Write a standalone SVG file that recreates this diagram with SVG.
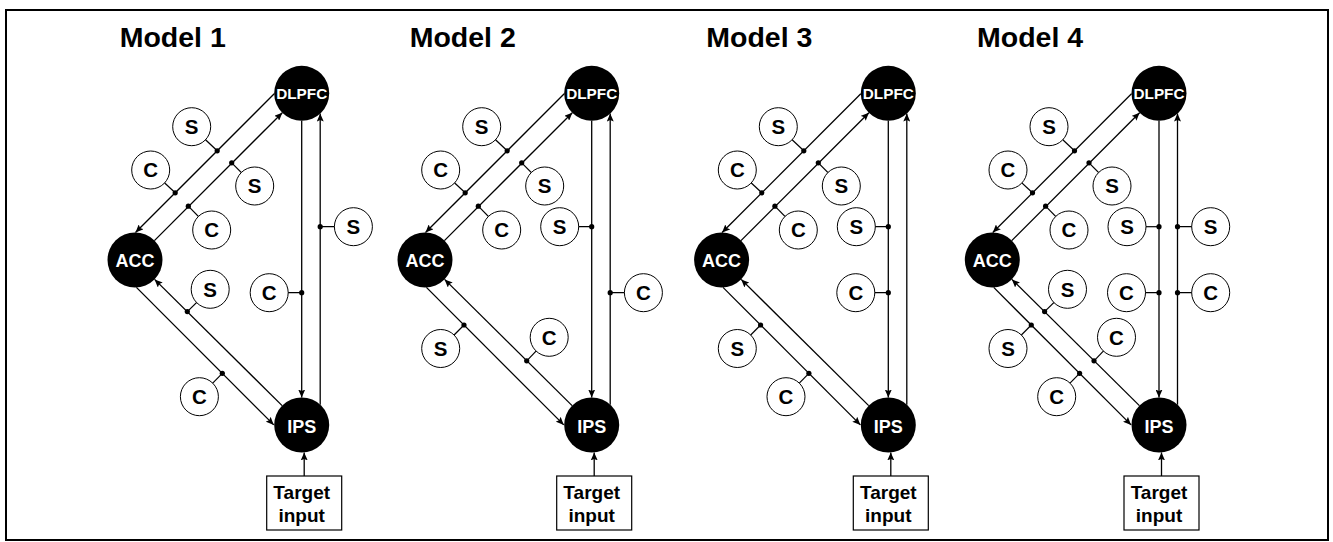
<svg xmlns="http://www.w3.org/2000/svg" width="1333" height="542" viewBox="0 0 1333 542">
<defs>
<marker id="ah" markerUnits="userSpaceOnUse" markerWidth="9" markerHeight="7" refX="8" refY="3.5" orient="auto">
<path d="M0,0 L8,3.5 L0,7 L1.5,3.5 z" fill="#000"/>
</marker>
</defs>
<style>
.title{font-family:"Liberation Sans",Arial,sans-serif;font-weight:bold;font-size:28.5px;fill:#000}
.node{fill:#000}
.nl{font-family:"Liberation Sans",Arial,sans-serif;font-weight:bold;font-size:18px;fill:#fff;text-anchor:middle}
.dl{font-size:15px}
.ln{stroke:#000;stroke-width:1.3;fill:none}
.arr{marker-end:url(#ah)}
.stub{stroke:#000;stroke-width:1.2}
.dot{fill:#000}
.lab{fill:#fff;stroke:#000;stroke-width:1}
.lt{font-family:"Liberation Sans",Arial,sans-serif;font-weight:bold;font-size:20.5px;fill:#000;text-anchor:middle}
.box{fill:#fff;stroke:#000;stroke-width:1.2}
.bt{font-family:"Liberation Sans",Arial,sans-serif;font-weight:bold;font-size:19px;fill:#000;text-anchor:middle}
</style>
<rect x="0" y="0" width="1333" height="542" fill="#fff"/>
<rect x="6" y="10" width="1322" height="530" fill="none" stroke="#000" stroke-width="2"/>

<!-- MODEL 1 -->
<g id="model1" transform="translate(301.7,0)">
<text class="title" x="-182" y="47">Model 1</text>
<g id="m1-connectors">
<line class="ln arr" x1="-27.5" y1="93.8" x2="-166.2" y2="232.5"/>
<line class="ln arr" x1="-147.3" y1="240.6" x2="-19.4" y2="112.7"/>
<line class="ln arr" x1="-165.3" y1="287.4" x2="-27.9" y2="424.9"/>
<line class="ln arr" x1="-19.6" y1="405.6" x2="-147.1" y2="279.4"/>
<line class="ln arr" x1="0" y1="120.8" x2="0" y2="397.5"/>
<line class="ln arr" x1="18.5" y1="404.7" x2="18.5" y2="113.6"/>
<line class="ln arr" x1="2.5" y1="476" x2="2.5" y2="452.4"/>
</g>
<g id="m1-l1-s"><line class="stub" x1="-84.5" y1="150.8" x2="-110" y2="126.7"/><circle class="dot" cx="-84.5" cy="150.8" r="2.6"/><circle class="lab" cx="-110" cy="126.7" r="19"/><text class="lt" x="-110" y="134">S</text></g>
<g id="m1-l1-c"><line class="stub" x1="-126.5" y1="192.8" x2="-151" y2="170"/><circle class="dot" cx="-126.5" cy="192.8" r="2.6"/><circle class="lab" cx="-151" cy="170" r="19"/><text class="lt" x="-151" y="177.3">C</text></g>
<g id="m1-l2-s"><line class="stub" x1="-70" y1="162.8" x2="-47" y2="186"/><circle class="dot" cx="-70" cy="162.8" r="2.6"/><circle class="lab" cx="-47" cy="186" r="19"/><text class="lt" x="-47" y="193.3">S</text></g>
<g id="m1-l2-c"><line class="stub" x1="-113.4" y1="206.2" x2="-90" y2="230"/><circle class="dot" cx="-113.4" cy="206.2" r="2.6"/><circle class="lab" cx="-90" cy="230" r="19"/><text class="lt" x="-90" y="237.3">C</text></g>
<g id="m1-vr-s"><line class="stub" x1="18.5" y1="226.7" x2="51.7" y2="226.7"/><circle class="dot" cx="18.5" cy="226.7" r="2.6"/><circle class="lab" cx="51.7" cy="226.7" r="19"/><text class="lt" x="51.7" y="234">S</text></g>
<g id="m1-vl-c"><line class="stub" x1="0" y1="292.7" x2="-32.5" y2="292.7"/><circle class="dot" cx="0" cy="292.7" r="2.6"/><circle class="lab" cx="-32.5" cy="292.7" r="19"/><text class="lt" x="-32.5" y="300">C</text></g>
<g id="m1-lb-s"><line class="stub" x1="-114.4" y1="311.6" x2="-91.5" y2="289.3"/><circle class="dot" cx="-114.4" cy="311.6" r="2.6"/><circle class="lab" cx="-91.5" cy="289.3" r="19"/><text class="lt" x="-91.5" y="296.6">S</text></g>
<g id="m1-la-c"><line class="stub" x1="-79.4" y1="373.3" x2="-102.3" y2="396.7"/><circle class="dot" cx="-79.4" cy="373.3" r="2.6"/><circle class="lab" cx="-102.3" cy="396.7" r="19"/><text class="lt" x="-102.3" y="404">C</text></g>
<g id="m1-dlpfc"><circle class="node" cx="0" cy="93.3" r="27.5"/><text class="nl dl" x="0" y="98.8" textLength="51" lengthAdjust="spacingAndGlyphs">DLPFC</text></g>
<g id="m1-acc"><circle class="node" cx="-166.7" cy="260" r="27.5"/><text class="nl" x="-166.7" y="266.8">ACC</text></g>
<g id="m1-ips"><circle class="node" cx="0" cy="425" r="27.5"/><text class="nl" x="0" y="432.5">IPS</text></g>
<g id="m1-target"><rect class="box" x="-35" y="476" width="75" height="54"/><text class="bt" x="0" y="499.3">Target</text><text class="bt" x="0" y="521.5">input</text></g>
</g>

<!-- MODEL 2 -->
<g id="model2" transform="translate(591.7,0)">
<text class="title" x="-182" y="47">Model 2</text>
<g id="m2-connectors">
<line class="ln arr" x1="-27.5" y1="93.8" x2="-166.2" y2="232.5"/>
<line class="ln arr" x1="-147.3" y1="240.6" x2="-19.4" y2="112.7"/>
<line class="ln arr" x1="-165.3" y1="287.4" x2="-27.9" y2="424.9"/>
<line class="ln arr" x1="-19.6" y1="405.6" x2="-147.1" y2="279.4"/>
<line class="ln arr" x1="0" y1="120.8" x2="0" y2="397.5"/>
<line class="ln arr" x1="18.5" y1="404.7" x2="18.5" y2="113.6"/>
<line class="ln arr" x1="2.5" y1="476" x2="2.5" y2="452.4"/>
</g>
<g id="m2-l1-s"><line class="stub" x1="-84.5" y1="150.8" x2="-110" y2="126.7"/><circle class="dot" cx="-84.5" cy="150.8" r="2.6"/><circle class="lab" cx="-110" cy="126.7" r="19"/><text class="lt" x="-110" y="134">S</text></g>
<g id="m2-l1-c"><line class="stub" x1="-126.5" y1="192.8" x2="-151" y2="170"/><circle class="dot" cx="-126.5" cy="192.8" r="2.6"/><circle class="lab" cx="-151" cy="170" r="19"/><text class="lt" x="-151" y="177.3">C</text></g>
<g id="m2-l2-s"><line class="stub" x1="-70" y1="162.8" x2="-47" y2="186"/><circle class="dot" cx="-70" cy="162.8" r="2.6"/><circle class="lab" cx="-47" cy="186" r="19"/><text class="lt" x="-47" y="193.3">S</text></g>
<g id="m2-l2-c"><line class="stub" x1="-113.4" y1="206.2" x2="-90" y2="230"/><circle class="dot" cx="-113.4" cy="206.2" r="2.6"/><circle class="lab" cx="-90" cy="230" r="19"/><text class="lt" x="-90" y="237.3">C</text></g>
<g id="m2-vl-s"><line class="stub" x1="0" y1="226.7" x2="-32" y2="226.7"/><circle class="dot" cx="0" cy="226.7" r="2.6"/><circle class="lab" cx="-32" cy="226.7" r="19"/><text class="lt" x="-32" y="234">S</text></g>
<g id="m2-vr-c"><line class="stub" x1="18.5" y1="292.7" x2="51.7" y2="292.7"/><circle class="dot" cx="18.5" cy="292.7" r="2.6"/><circle class="lab" cx="51.7" cy="292.7" r="19"/><text class="lt" x="51.7" y="300">C</text></g>
<g id="m2-lb-c"><line class="stub" x1="-65" y1="360.8" x2="-42.5" y2="337.3"/><circle class="dot" cx="-65" cy="360.8" r="2.6"/><circle class="lab" cx="-42.5" cy="337.3" r="19"/><text class="lt" x="-42.5" y="344.6">C</text></g>
<g id="m2-la-s"><line class="stub" x1="-127.7" y1="325" x2="-151" y2="348.5"/><circle class="dot" cx="-127.7" cy="325" r="2.6"/><circle class="lab" cx="-151" cy="348.5" r="19"/><text class="lt" x="-151" y="355.8">S</text></g>
<g id="m2-dlpfc"><circle class="node" cx="0" cy="93.3" r="27.5"/><text class="nl dl" x="0" y="98.8" textLength="51" lengthAdjust="spacingAndGlyphs">DLPFC</text></g>
<g id="m2-acc"><circle class="node" cx="-166.7" cy="260" r="27.5"/><text class="nl" x="-166.7" y="266.8">ACC</text></g>
<g id="m2-ips"><circle class="node" cx="0" cy="425" r="27.5"/><text class="nl" x="0" y="432.5">IPS</text></g>
<g id="m2-target"><rect class="box" x="-35" y="476" width="75" height="54"/><text class="bt" x="0" y="499.3">Target</text><text class="bt" x="0" y="521.5">input</text></g>
</g>

<!-- MODEL 3 -->
<g id="model3" transform="translate(888.3,0)">
<text class="title" x="-182" y="47">Model 3</text>
<g id="m3-connectors">
<line class="ln arr" x1="-27.5" y1="93.8" x2="-166.2" y2="232.5"/>
<line class="ln arr" x1="-147.3" y1="240.6" x2="-19.4" y2="112.7"/>
<line class="ln arr" x1="-165.3" y1="287.4" x2="-27.9" y2="424.9"/>
<line class="ln arr" x1="-19.6" y1="405.6" x2="-147.1" y2="279.4"/>
<line class="ln arr" x1="0" y1="120.8" x2="0" y2="397.5"/>
<line class="ln arr" x1="18.5" y1="404.7" x2="18.5" y2="113.6"/>
<line class="ln arr" x1="2.5" y1="476" x2="2.5" y2="452.4"/>
</g>
<g id="m3-l1-s"><line class="stub" x1="-84.5" y1="150.8" x2="-110" y2="126.7"/><circle class="dot" cx="-84.5" cy="150.8" r="2.6"/><circle class="lab" cx="-110" cy="126.7" r="19"/><text class="lt" x="-110" y="134">S</text></g>
<g id="m3-l1-c"><line class="stub" x1="-126.5" y1="192.8" x2="-151" y2="170"/><circle class="dot" cx="-126.5" cy="192.8" r="2.6"/><circle class="lab" cx="-151" cy="170" r="19"/><text class="lt" x="-151" y="177.3">C</text></g>
<g id="m3-l2-s"><line class="stub" x1="-70" y1="162.8" x2="-47" y2="186"/><circle class="dot" cx="-70" cy="162.8" r="2.6"/><circle class="lab" cx="-47" cy="186" r="19"/><text class="lt" x="-47" y="193.3">S</text></g>
<g id="m3-l2-c"><line class="stub" x1="-113.4" y1="206.2" x2="-90" y2="230"/><circle class="dot" cx="-113.4" cy="206.2" r="2.6"/><circle class="lab" cx="-90" cy="230" r="19"/><text class="lt" x="-90" y="237.3">C</text></g>
<g id="m3-vl-s"><line class="stub" x1="0" y1="226.7" x2="-32" y2="226.7"/><circle class="dot" cx="0" cy="226.7" r="2.6"/><circle class="lab" cx="-32" cy="226.7" r="19"/><text class="lt" x="-32" y="234">S</text></g>
<g id="m3-vl-c"><line class="stub" x1="0" y1="292.7" x2="-32.5" y2="292.7"/><circle class="dot" cx="0" cy="292.7" r="2.6"/><circle class="lab" cx="-32.5" cy="292.7" r="19"/><text class="lt" x="-32.5" y="300">C</text></g>
<g id="m3-la-s"><line class="stub" x1="-127.7" y1="325" x2="-151" y2="348.5"/><circle class="dot" cx="-127.7" cy="325" r="2.6"/><circle class="lab" cx="-151" cy="348.5" r="19"/><text class="lt" x="-151" y="355.8">S</text></g>
<g id="m3-la-c"><line class="stub" x1="-79.4" y1="373.3" x2="-102.3" y2="396.7"/><circle class="dot" cx="-79.4" cy="373.3" r="2.6"/><circle class="lab" cx="-102.3" cy="396.7" r="19"/><text class="lt" x="-102.3" y="404">C</text></g>
<g id="m3-dlpfc"><circle class="node" cx="0" cy="93.3" r="27.5"/><text class="nl dl" x="0" y="98.8" textLength="51" lengthAdjust="spacingAndGlyphs">DLPFC</text></g>
<g id="m3-acc"><circle class="node" cx="-166.7" cy="260" r="27.5"/><text class="nl" x="-166.7" y="266.8">ACC</text></g>
<g id="m3-ips"><circle class="node" cx="0" cy="425" r="27.5"/><text class="nl" x="0" y="432.5">IPS</text></g>
<g id="m3-target"><rect class="box" x="-35" y="476" width="75" height="54"/><text class="bt" x="0" y="499.3">Target</text><text class="bt" x="0" y="521.5">input</text></g>
</g>

<!-- MODEL 4 -->
<g id="model4" transform="translate(1159,0)">
<text class="title" x="-182" y="47">Model 4</text>
<g id="m4-connectors">
<line class="ln arr" x1="-27.5" y1="93.8" x2="-166.2" y2="232.5"/>
<line class="ln arr" x1="-147.3" y1="240.6" x2="-19.4" y2="112.7"/>
<line class="ln arr" x1="-165.3" y1="287.4" x2="-27.9" y2="424.9"/>
<line class="ln arr" x1="-19.6" y1="405.6" x2="-147.1" y2="279.4"/>
<line class="ln arr" x1="0" y1="120.8" x2="0" y2="397.5"/>
<line class="ln arr" x1="18.5" y1="404.7" x2="18.5" y2="113.6"/>
<line class="ln arr" x1="2.5" y1="476" x2="2.5" y2="452.4"/>
</g>
<g id="m4-l1-s"><line class="stub" x1="-84.5" y1="150.8" x2="-110" y2="126.7"/><circle class="dot" cx="-84.5" cy="150.8" r="2.6"/><circle class="lab" cx="-110" cy="126.7" r="19"/><text class="lt" x="-110" y="134">S</text></g>
<g id="m4-l1-c"><line class="stub" x1="-126.5" y1="192.8" x2="-151" y2="170"/><circle class="dot" cx="-126.5" cy="192.8" r="2.6"/><circle class="lab" cx="-151" cy="170" r="19"/><text class="lt" x="-151" y="177.3">C</text></g>
<g id="m4-l2-s"><line class="stub" x1="-70" y1="162.8" x2="-47" y2="186"/><circle class="dot" cx="-70" cy="162.8" r="2.6"/><circle class="lab" cx="-47" cy="186" r="19"/><text class="lt" x="-47" y="193.3">S</text></g>
<g id="m4-l2-c"><line class="stub" x1="-113.4" y1="206.2" x2="-90" y2="230"/><circle class="dot" cx="-113.4" cy="206.2" r="2.6"/><circle class="lab" cx="-90" cy="230" r="19"/><text class="lt" x="-90" y="237.3">C</text></g>
<g id="m4-vl-s"><line class="stub" x1="0" y1="226.7" x2="-32" y2="226.7"/><circle class="dot" cx="0" cy="226.7" r="2.6"/><circle class="lab" cx="-32" cy="226.7" r="19"/><text class="lt" x="-32" y="234">S</text></g>
<g id="m4-vl-c"><line class="stub" x1="0" y1="292.7" x2="-32.5" y2="292.7"/><circle class="dot" cx="0" cy="292.7" r="2.6"/><circle class="lab" cx="-32.5" cy="292.7" r="19"/><text class="lt" x="-32.5" y="300">C</text></g>
<g id="m4-vr-s"><line class="stub" x1="18.5" y1="226.7" x2="51.7" y2="226.7"/><circle class="dot" cx="18.5" cy="226.7" r="2.6"/><circle class="lab" cx="51.7" cy="226.7" r="19"/><text class="lt" x="51.7" y="234">S</text></g>
<g id="m4-vr-c"><line class="stub" x1="18.5" y1="292.7" x2="51.7" y2="292.7"/><circle class="dot" cx="18.5" cy="292.7" r="2.6"/><circle class="lab" cx="51.7" cy="292.7" r="19"/><text class="lt" x="51.7" y="300">C</text></g>
<g id="m4-lb-s"><line class="stub" x1="-114.4" y1="311.6" x2="-91.5" y2="289.3"/><circle class="dot" cx="-114.4" cy="311.6" r="2.6"/><circle class="lab" cx="-91.5" cy="289.3" r="19"/><text class="lt" x="-91.5" y="296.6">S</text></g>
<g id="m4-lb-c"><line class="stub" x1="-65" y1="360.8" x2="-42.5" y2="337.3"/><circle class="dot" cx="-65" cy="360.8" r="2.6"/><circle class="lab" cx="-42.5" cy="337.3" r="19"/><text class="lt" x="-42.5" y="344.6">C</text></g>
<g id="m4-la-s"><line class="stub" x1="-127.7" y1="325" x2="-151" y2="348.5"/><circle class="dot" cx="-127.7" cy="325" r="2.6"/><circle class="lab" cx="-151" cy="348.5" r="19"/><text class="lt" x="-151" y="355.8">S</text></g>
<g id="m4-la-c"><line class="stub" x1="-79.4" y1="373.3" x2="-102.3" y2="396.7"/><circle class="dot" cx="-79.4" cy="373.3" r="2.6"/><circle class="lab" cx="-102.3" cy="396.7" r="19"/><text class="lt" x="-102.3" y="404">C</text></g>
<g id="m4-dlpfc"><circle class="node" cx="0" cy="93.3" r="27.5"/><text class="nl dl" x="0" y="98.8" textLength="51" lengthAdjust="spacingAndGlyphs">DLPFC</text></g>
<g id="m4-acc"><circle class="node" cx="-166.7" cy="260" r="27.5"/><text class="nl" x="-166.7" y="266.8">ACC</text></g>
<g id="m4-ips"><circle class="node" cx="0" cy="425" r="27.5"/><text class="nl" x="0" y="432.5">IPS</text></g>
<g id="m4-target"><rect class="box" x="-35" y="476" width="75" height="54"/><text class="bt" x="0" y="499.3">Target</text><text class="bt" x="0" y="521.5">input</text></g>
</g>
</svg>
